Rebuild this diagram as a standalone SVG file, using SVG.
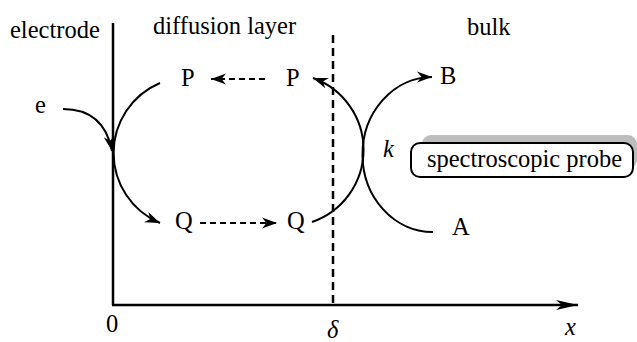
<svg xmlns="http://www.w3.org/2000/svg" width="637" height="342" viewBox="0 0 637 342" font-family="'Liberation Serif', 'Times New Roman', serif">
<style>
text{font-family:"Liberation Serif","Times New Roman",serif;font-size:24.5px;fill:#000}
.it{font-style:italic}
.ln{fill:none;stroke:#000;stroke-width:2}
.ax{fill:none;stroke:#000;stroke-width:2.5}
.dash{stroke-dasharray:6,4}
</style>
<defs>
<marker id="ah" markerUnits="userSpaceOnUse" markerWidth="20" markerHeight="14" viewBox="-16 -7 18 14" refX="0" refY="0" orient="auto">
<path d="M0,0 L-15,-5.5 L-10.5,0 L-15,5.5 z" fill="#000"/>
</marker>
<marker id="axh" markerUnits="userSpaceOnUse" markerWidth="26" markerHeight="14" viewBox="-24 -7 26 14" refX="0" refY="0" orient="auto">
<path d="M0,0 L-22,-5 L-16,0 L-22,5 z" fill="#000"/>
</marker>
</defs>
<rect width="637" height="342" fill="#fff"/>
<g id="axes">
<line class="ax" x1="113" y1="23" x2="113" y2="305"/>
<line class="ax" x1="112" y1="305" x2="578" y2="305" marker-end="url(#axh)"/>
<line class="ax" x1="333" y1="35" x2="333" y2="305" stroke-width="2" stroke-dasharray="8,5"/>
</g>
<g id="labels">
<text x="10" y="38">electrode</text>
<text x="153" y="34">diffusion layer</text>
<text x="467" y="35">bulk</text>
<text x="106" y="332">0</text>
<text class="it" x="327" y="338">δ</text>
<text class="it" x="565" y="335">x</text>
<text class="it" x="383" y="157">k</text>
</g>
<g id="node-e"><text x="35" y="113">e</text></g>
<g id="node-P1"><text x="181" y="86">P</text></g>
<g id="node-P2"><text x="286" y="86">P</text></g>
<g id="node-Q1"><text x="175" y="229">Q</text></g>
<g id="node-Q2"><text x="287" y="229">Q</text></g>
<g id="node-B"><text x="440" y="84">B</text></g>
<g id="node-A"><text x="452" y="235">A</text></g>
<g id="node-probe">
<rect x="422" y="135" width="215" height="34" rx="9" fill="#bdbdbd"/>
<rect x="411" y="143" width="222" height="34" rx="9" fill="#fff" stroke="#000" stroke-width="2"/>
<text x="427" y="167" textLength="195" lengthAdjust="spacingAndGlyphs">spectroscopic probe</text>
</g>
<g id="connectors">
<path class="ln" d="M63,109 Q104,109 112,151" marker-end="url(#ah)"/>
<path class="ln" d="M160,83 A76,76 0 0 0 160,223" marker-end="url(#ah)"/>
<line class="ln dash" x1="265" y1="79" x2="211" y2="79" marker-end="url(#ah)"/>
<line class="ln dash" x1="200" y1="223" x2="277" y2="223" marker-end="url(#ah)"/>
<path class="ln" d="M312,222 A76.3,76.3 0 0 0 313,78" marker-end="url(#ah)"/>
<path class="ln" d="M433,232 A70,77.5 0 0 1 432,77" marker-end="url(#ah)"/>
</g>
</svg>
